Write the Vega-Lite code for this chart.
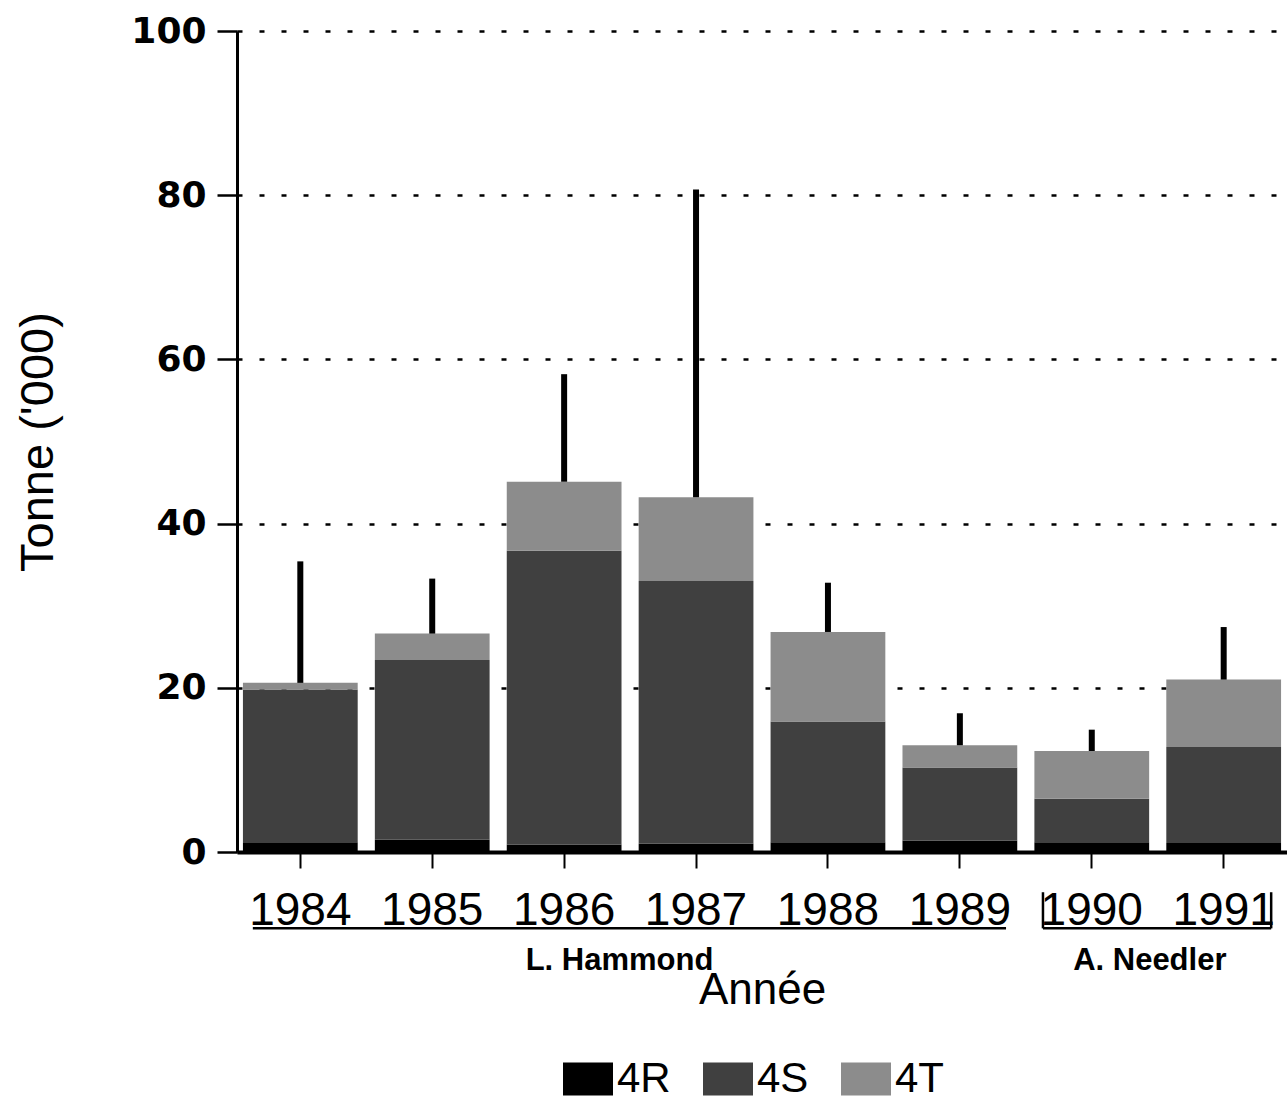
{
  "$schema": "https://vega.github.io/schema/vega-lite/v6.json",
  "width": 1050,
  "height": 821,
  "autosize": {"type": "none"},
  "padding": {"left": 237, "top": 31, "right": 0, "bottom": 253},
  "background": "white",
  "datasets": {
    "bars": [
      {"year": "1984", "zone": "4R", "tonnes": 1.2},
      {"year": "1984", "zone": "4S", "tonnes": 18.6},
      {"year": "1984", "zone": "4T", "tonnes": 0.8},
      {"year": "1985", "zone": "4R", "tonnes": 1.5},
      {"year": "1985", "zone": "4S", "tonnes": 21.9},
      {"year": "1985", "zone": "4T", "tonnes": 3.2},
      {"year": "1986", "zone": "4R", "tonnes": 0.9},
      {"year": "1986", "zone": "4S", "tonnes": 35.8},
      {"year": "1986", "zone": "4T", "tonnes": 8.4},
      {"year": "1987", "zone": "4R", "tonnes": 1.0},
      {"year": "1987", "zone": "4S", "tonnes": 32.0},
      {"year": "1987", "zone": "4T", "tonnes": 10.2},
      {"year": "1988", "zone": "4R", "tonnes": 1.2},
      {"year": "1988", "zone": "4S", "tonnes": 14.7},
      {"year": "1988", "zone": "4T", "tonnes": 10.9},
      {"year": "1989", "zone": "4R", "tonnes": 1.4},
      {"year": "1989", "zone": "4S", "tonnes": 8.9},
      {"year": "1989", "zone": "4T", "tonnes": 2.7},
      {"year": "1990", "zone": "4R", "tonnes": 1.2},
      {"year": "1990", "zone": "4S", "tonnes": 5.3},
      {"year": "1990", "zone": "4T", "tonnes": 5.8},
      {"year": "1991", "zone": "4R", "tonnes": 1.1},
      {"year": "1991", "zone": "4S", "tonnes": 11.7},
      {"year": "1991", "zone": "4T", "tonnes": 8.2}
    ],
    "errors": [
      {"year": "1984", "total": 20.6, "upper": 35.4},
      {"year": "1985", "total": 26.6, "upper": 33.3},
      {"year": "1986", "total": 45.1, "upper": 58.2},
      {"year": "1987", "total": 43.2, "upper": 80.7},
      {"year": "1988", "total": 26.8, "upper": 32.8},
      {"year": "1989", "total": 13.0, "upper": 16.9},
      {"year": "1990", "total": 12.3, "upper": 14.9},
      {"year": "1991", "total": 21.0, "upper": 27.4}
    ],
    "brackets": [
      {"x1": 1983.64, "x2": 1989.35, "y1": -9.3, "y2": -9.3},
      {"x1": 1989.63, "x2": 1991.36, "y1": -9.3, "y2": -9.3},
      {"x1": 1989.63, "x2": 1989.63, "y1": -9.3, "y2": -4.9},
      {"x1": 1991.36, "x2": 1991.36, "y1": -9.3, "y2": -4.9}
    ],
    "vessels": [
      {"vessel": "L. Hammond", "pos": 1986.42, "level": -13.3},
      {"vessel": "A. Needler", "pos": 1990.44, "level": -13.3}
    ]
  },
  "layer": [
    {
      "layer": [
        {
          "data": {"name": "bars"},
          "mark": {"type": "bar"},
          "encoding": {
            "x": {"field": "year", "type": "ordinal", "title": "Année",
                  "scale": {"paddingInner": 0.13, "paddingOuter": 0.045}},
            "y": {"field": "tonnes", "type": "quantitative", "aggregate": "sum", "stack": "zero",
                  "title": "Tonne ('000)",
                  "axis": {"values": [0, 20, 40, 60, 80, 100]},
                  "scale": {"domain": [0, 100], "nice": false}},
            "color": {"field": "zone", "type": "nominal", "title": null,
                      "scale": {"domain": ["4R", "4S", "4T"], "range": ["#000000", "#404040", "#8c8c8c"]},
                      "legend": {"orient": "none", "legendX": 326, "legendY": 1023, "direction": "horizontal",
                                 "symbolType": "M-1,-0.66H1V0.66H-1Z", "symbolSize": 2500,
                                 "symbolStrokeWidth": 0, "labelFontSize": 42, "labelFont": "Liberation Sans",
                                 "labelColor": "black", "labelOffset": 4, "columnPadding": 32, "padding": 0}},
            "order": {"field": "zone", "type": "nominal", "sort": "ascending"}
          }
        },
        {
          "data": {"name": "errors"},
          "mark": {"type": "rule", "color": "black", "strokeWidth": 6},
          "encoding": {
            "x": {"field": "year", "type": "ordinal", "title": "Année"},
            "y": {"field": "total", "type": "quantitative", "title": "Tonne ('000)",
                  "axis": {"values": [0, 20, 40, 60, 80, 100]},
                  "scale": {"domain": [0, 100], "nice": false}},
            "y2": {"field": "upper"}
          }
        }
      ]
    },
    {
      "layer": [
        {
          "data": {"name": "brackets"},
          "mark": {"type": "rule", "color": "black", "strokeWidth": 2.5},
          "encoding": {
            "x": {"field": "x1", "type": "quantitative", "axis": null,
                  "scale": {"domain": [1983.52, 1991.48], "nice": false, "zero": false}},
            "x2": {"field": "x2"},
            "y": {"field": "y1", "type": "quantitative", "title": "Tonne ('000)",
                  "axis": {"values": [0, 20, 40, 60, 80, 100]},
                  "scale": {"domain": [0, 100], "nice": false}},
            "y2": {"field": "y2"}
          }
        },
        {
          "data": {"name": "vessels"},
          "mark": {"type": "text", "font": "Liberation Sans", "fontWeight": "bold", "fontSize": 31,
                   "color": "black", "align": "center", "baseline": "middle"},
          "encoding": {
            "x": {"field": "pos", "type": "quantitative", "axis": null,
                  "scale": {"domain": [1983.52, 1991.48], "nice": false, "zero": false}},
            "y": {"field": "level", "type": "quantitative", "title": "Tonne ('000)",
                  "axis": {"values": [0, 20, 40, 60, 80, 100]},
                  "scale": {"domain": [0, 100], "nice": false}},
            "text": {"field": "vessel"}
          }
        }
      ]
    }
  ],
  "resolve": {"scale": {"x": "independent"}, "axis": {"x": "independent"}},
  "config": {
    "view": {"stroke": null},
    "axisX": {
      "domainColor": "black", "domainWidth": 4,
      "tickColor": "black", "tickWidth": 2, "tickSize": 16,
      "labelFont": "Liberation Sans", "labelFontSize": 46, "labelColor": "black", "labelAngle": 0,
      "labelPadding": 20,
      "titleFont": "Liberation Sans", "titleFontSize": 44, "titleFontWeight": "normal", "titleColor": "black",
      "titlePadding": 35, "grid": false
    },
    "axisY": {
      "domainColor": "black", "domainWidth": 3,
      "tickColor": "black", "tickWidth": 2.5, "tickSize": 20,
      "labelFont": "DejaVu Sans", "labelFontWeight": "bold", "labelFontSize": 36, "labelColor": "black",
      "labelPadding": 11,
      "titleFont": "Liberation Sans", "titleFontSize": 47, "titleFontWeight": "normal", "titleColor": "black",
      "titlePadding": 68,
      "grid": true, "gridColor": "black", "gridWidth": 2.5, "gridDash": [5, 17], "gridOpacity": 1
    }
  }
}
